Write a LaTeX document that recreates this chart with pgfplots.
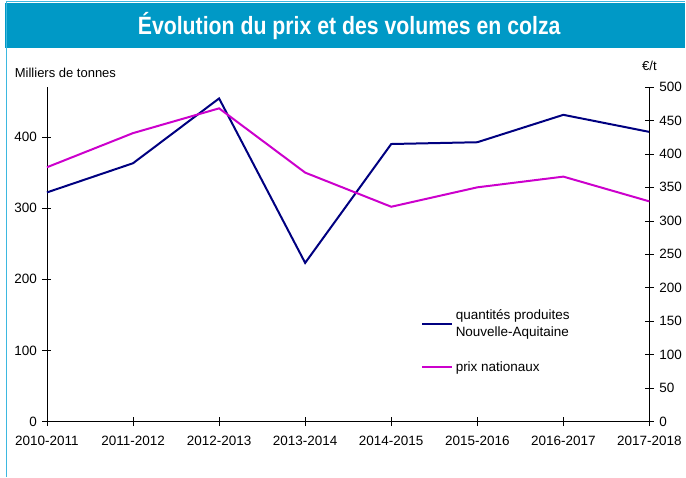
\documentclass[border=0pt]{standalone}
\usepackage{pgfplots}
\pgfplotsset{compat=1.18}
\usepackage{fontspec}
\setmainfont{Liberation Sans}
\usepackage{graphicx}
\definecolor{titlebg}{HTML}{0099C6}
\definecolor{framec}{HTML}{3DB8E0}
\definecolor{qblue}{HTML}{000080}
\definecolor{ppink}{HTML}{CC00CC}
\begin{document}
\begin{tikzpicture}[x=1pt,y=1pt]
\path (0,0) rectangle (686,477);
\fill[titlebg] (5,429) rectangle (686,474);
\draw[framec, line width=1.2pt] (6.5,0) -- (6.5,475.5) -- (686,475.5);
\node[text=white, font=\fontsize{25}{28}\selectfont\bfseries] at (349.5,451) {\resizebox{423pt}{\height}{Évolution du prix et des volumes en colza}};
\node[font=\fontsize{13}{15}\selectfont] at (65.5,404) {Milliers de tonnes};
\node[font=\fontsize{13}{15}\selectfont] at (650,411) {€/t};
\begin{axis}[
  at={(47pt,55pt)}, anchor=south west,
  scale only axis, width=603pt, height=335pt,
  xmin=0, xmax=7, ymin=0, ymax=470.2,
  axis y line*=left, axis x line*=bottom,
  axis line style={black, line width=0.6pt, -},
  xtick={0,...,7},
  xticklabels={2010-2011,2011-2012,2012-2013,2013-2014,2014-2015,2015-2016,2016-2017,2017-2018},
  ytick={0,100,200,300,400},
  tick align=center, major tick length=9pt,
  tick style={black, line width=0.6pt},
  tick label style={font=\fontsize{13.5}{15}\selectfont},
  /pgf/number format/assume math mode=true,
  yticklabel style={xshift=-2pt},
  xticklabel style={yshift=-6pt},
  clip=false,
]
\addplot[color=qblue, line width=2pt] coordinates {
(0,322) (1,363) (2,454) (3,223) (4,390) (5,392.5) (6,431) (7,407)};
\end{axis}
\begin{axis}[
  at={(47pt,55pt)}, anchor=south west,
  scale only axis, width=603pt, height=335pt,
  xmin=0, xmax=7, ymin=0, ymax=500,
  axis y line*=right, axis x line=none,
  axis line style={black, line width=0.6pt, -},
  ytick={0,50,...,500},
  tick align=center, major tick length=9pt,
  tick style={black, line width=0.6pt},
  tick label style={font=\fontsize{13.5}{15}\selectfont},
  /pgf/number format/assume math mode=true,
  yticklabel style={xshift=2pt},
  clip=false,
  legend style={at={(0.616,0.345)}, anchor=north west, draw=none, fill=none,
    font=\fontsize{13.5}{17}\selectfont, row sep=22pt,
    nodes={align=left, inner ysep=1pt, inner xsep=2.5pt}},
  legend cell align=left,
  legend image code/.code={\draw[#1] (0pt,0pt) -- (30pt,0pt);},
]
\addlegendimage{color=qblue, line width=2pt}
\addlegendentry{quantités produites\\Nouvelle-Aquitaine}
\addplot[color=ppink, line width=2pt] coordinates {
(0,380) (1,431) (2,468) (3,372) (4,321) (5,350) (6,366) (7,329)};
\addlegendentry{prix nationaux}
\end{axis}
\end{tikzpicture}
\end{document}
